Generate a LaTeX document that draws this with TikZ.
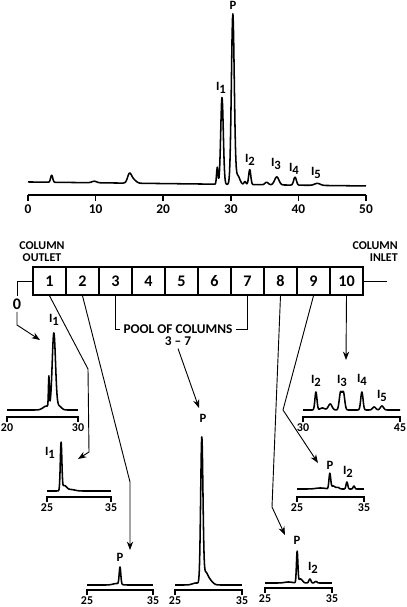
\documentclass[tikz,border=0pt]{standalone}
\usepackage{fontspec}
\setmainfont{Carlito}
\usetikzlibrary{arrows.meta}
\tikzset{
	cell/.style={draw, line width=1.1pt, minimum width=8.25mm, minimum height=7mm, inner sep=0pt, font=\fontsize{11.5}{12}\selectfont\bfseries},
	trace/.style={line width=1.1pt, line join=round},
	axisline/.style={line width=1.2pt},
	link/.style={line width=0.65pt},
	tip/.style={-{Stealth[length=6pt,width=4.5pt]}},
	lbl/.style={font=\fontsize{9}{10}\selectfont\bfseries, inner sep=0pt},
	ticklbl/.style={font=\fontsize{9.5}{10}\selectfont\bfseries, inner sep=0pt},
	smalltick/.style={font=\fontsize{8.5}{9}\selectfont\bfseries, inner sep=0pt},
	caption/.style={font=\fontsize{8.5}{8.5}\selectfont\bfseries, inner sep=0pt},
}
\newcommand{\Isub}[1]{I\raisebox{-0.45ex}{#1}}
\newcommand{\smallaxis}[6]{%
	\draw[axisline] (#2,#4+5) -- (#2,#4) -- (#3,#4) -- (#3,#4+5);
	\node[smalltick] (#1a) at (#2,#4+11) {#5};
	\node[smalltick] (#1b) at (#3,#4+11) {#6};}
\begin{document}
\begin{tikzpicture}[x=0.25mm, y=-0.25mm,
		declare function={pk(\t,\c,\w)=exp(-1*pow(min(abs(\t-\c)/\w,3),2));}]
		\useasboundingbox[fill=white] (0,0) rectangle (407,607);
		\draw[trace] plot[domain=0:50, samples=801] ({28+6.76*\x}, {182+0.08*\x
			- 7*pk(\x,3.5,0.22) - 1.5*pk(\x,9.8,0.5) - 8*pk(\x,15,0.4) - 4*pk(\x,15.5,0.6)
			- 17*pk(\x,28,0.15) - 87*pk(\x,28.7,0.27) - 170*pk(\x,30.3,0.3) - 9*pk(\x,31,0.45)
			- 3*pk(\x,32.1,0.2) - 15*pk(\x,32.8,0.22) - 2.5*pk(\x,35.3,0.35) - 8*pk(\x,36.8,0.45)
			- 8*pk(\x,39.5,0.28) - 2*pk(\x,42.8,0.6)});
		\draw[axisline] (28,195) -- (366,195);
		\foreach \t in {0,10,...,50} {
			\draw[axisline] ({28+6.76*\t},195) -- ({28+6.76*\t},201);
			\node[ticklbl] (t\t) at ({28+6.76*\t},209) {\t};
		}
		\node[lbl] (mainP) at (233,5) {P};
		\node[lbl] (mainI1) at (221,88) {\Isub{1}};
		\node[lbl] (mainI2) at (250,160) {\Isub{2}};
		\node[lbl] (mainI3) at (276,164) {\Isub{3}};
		\node[lbl] (mainI4) at (294,169) {\Isub{4}};
		\node[lbl] (mainI5) at (316,173) {\Isub{5}};

		\foreach \i in {1,...,10}
			\node[cell] (c\i) at ({33+33*(\i-0.5)},281) {\i};
		\node[caption, align=center] (outlet) at (42,252) {COLUMN\\OUTLET};
		\node[caption, align=right, anchor=east] (inlet) at (398,252) {COLUMN\\INLET};
		\coordinate (feed) at (387,281);
		\draw[link] (c10.east) -- (feed);

		\node[font=\fontsize{11.5}{12}\selectfont\bfseries, inner sep=1.5pt] (zero) at (17,304) {0};
		\coordinate (z1) at (17,325);
		\coordinate (z2) at (40,340);
		\draw[link] (c1.west) -| (zero.north);
		\draw[link, tip] (zero.south) -- (z1) -- (z2);

		\node[caption, font=\fontsize{9.5}{9}\selectfont\bfseries, inner sep=2pt] (pool) at (178,329) {POOL OF COLUMNS};
		\node[caption, font=\fontsize{9.5}{9}\selectfont\bfseries, inner sep=2pt] (range) at (178,341) {3 -- 7};
		\draw[link] (c3.south) |- (pool.west);
		\draw[link] (c7.south) |- (pool.east);
		\coordinate (r1) at (199,408);
		\draw[link, tip] (range.south) -- (r1);

		\coordinate (a1) at (88,369);
		\coordinate (a2) at (89,452);
		\coordinate (a3) at (78,459);
		\draw[link, tip] (c1.south) -- (a1) -- (a2) -- (a3);
		\coordinate (b1) at (130,482);
		\coordinate (b2) at (130,550);
		\draw[link, tip] (c2.south) -- (b1) -- (b2);
		\coordinate (e1) at (272,507);
		\coordinate (e2) at (285,535);
		\draw[link, tip] (c8.south) -- (e1) -- (e2);
		\coordinate (f1) at (283,410);
		\coordinate (f2) at (318,463);
		\draw[link, tip] (c9.south) -- (f1) -- (f2);
		\coordinate (g1) at (346,360);
		\draw[link, tip] (c10.south) -- (g1);

		\draw[trace] plot[domain=20:30, samples=301] ({7+7.1*(\x-20)}, {410 - 4*pk(\x,25.6,0.7)
			- 30*pk(\x,25.9,0.09) - 76*pk(\x,26.6,0.33) - 4*pk(\x,27.3,0.5)});
		\smallaxis{ca}{7}{78}{417}{20}{30}
		\node[lbl] (caI1) at (54,320) {\Isub{1}};

		\draw[trace] plot[domain=25:35, samples=301] ({47+6.4*(\x-25)}, {491 - 47*pk(\x,27.2,0.17)
			- 5*pk(\x,27.7,0.5) - 1.5*pk(\x,28.7,0.9)});
		\smallaxis{cb}{47}{111}{497}{25}{35}
		\node[lbl] (cbI1) at (50,453) {\Isub{1}};

		\draw[trace] plot[domain=25:35, samples=301] ({87+6.6*(\x-25)}, {585 - 17*pk(\x,30,0.17)
			- 1.5*pk(\x,29.5,0.8)});
		\smallaxis{cc}{87}{153}{590}{25}{35}
		\node[lbl] (ccP) at (120,557) {P};

		\draw[trace] plot[domain=25:35, samples=301] ({175+6.7*(\x-25)}, {585 - 144*pk(\x,29,0.24)
			- 9*pk(\x,29.5,0.45) - 6*pk(\x,30,0.7) - 2*pk(\x,28.2,0.8)});
		\smallaxis{cd}{175}{242}{590}{25}{35}
		\node[lbl] (cdP) at (203,418) {P};

		\draw[trace] plot[domain=25:35, samples=301] ({265+6.7*(\x-25)}, {583 - 31*pk(\x,29.8,0.15)
			- 4*pk(\x,30.3,0.4) - 4*pk(\x,31.7,0.22) - 1.5*pk(\x,32.6,0.25) - 1*pk(\x,28.5,0.8)});
		\smallaxis{ce}{265}{332}{588}{25}{35}
		\node[lbl] (ceP) at (297,540) {P};
		\node[lbl] (ceI2) at (313,568) {\Isub{2}};

		\draw[trace] plot[domain=25:35, samples=301] ({297+6.7*(\x-25)}, {489 - 15*pk(\x,29.9,0.18)
			- 3*pk(\x,30.4,0.4) - 7*pk(\x,32.45,0.18) - 3*pk(\x,33.5,0.18) - 1.5*pk(\x,31.1,0.3)
			- 1*pk(\x,28.5,1)});
		\smallaxis{cf}{297}{364}{497}{25}{35}
		\node[lbl] (cfP) at (330,465) {P};
		\node[lbl] (cfI2) at (348,472) {\Isub{2}};

		\draw[trace] plot[domain=30:45, samples=401] ({303+6.47*(\x-30)}, {410 - 18*pk(\x,32,0.22)
			- 6*pk(\x,34.2,0.4) - 17*pk(\x,35.8,0.28) - 17*pk(\x,36.25,0.28) - 18*pk(\x,39.1,0.25)
			- 3*pk(\x,41,0.35) - 4*pk(\x,42.2,0.35) - 2*pk(\x,33,0.5)});
		\smallaxis{cg}{303}{400}{417}{30}{45}
		\node[lbl] (cgI2) at (316,381) {\Isub{2}};
		\node[lbl] (cgI3) at (342,381) {\Isub{3}};
		\node[lbl] (cgI4) at (362,380) {\Isub{4}};
		\node[lbl] (cgI5) at (382,396) {\Isub{5}};
		\end{tikzpicture}
\end{document}
